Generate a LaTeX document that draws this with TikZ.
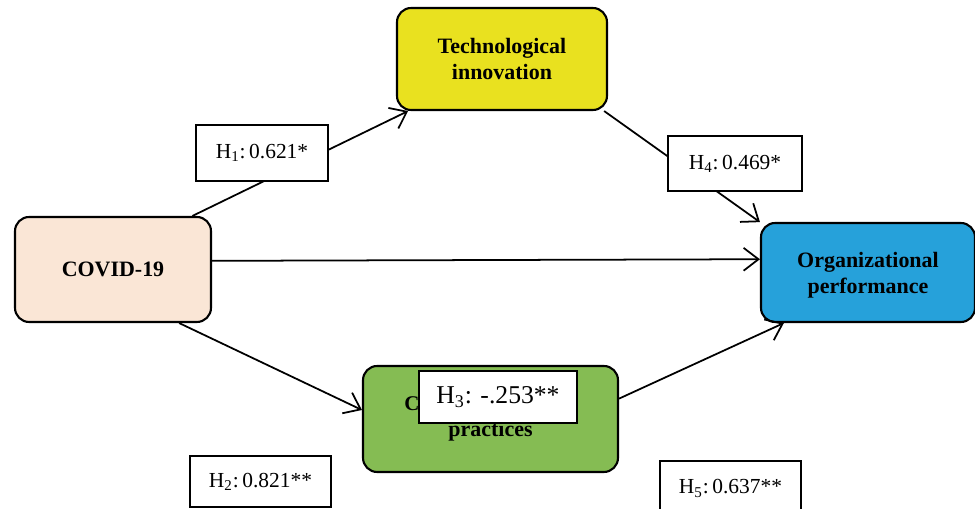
\documentclass[tikz,border=0pt]{standalone}
\usepackage{fontspec}
\setmainfont{Liberation Serif}
\usetikzlibrary{arrows.meta}

\definecolor{covidfill}{RGB}{250,230,214}
\definecolor{techfill}{RGB}{233,225,31}
\definecolor{orgfill}{RGB}{38,161,218}
\definecolor{greenfill}{RGB}{133,188,83}

\tikzset{
  varbox/.style={draw,line width=1.2pt,rounded corners=8pt,align=center,inner sep=0pt,
    font=\fontsize{12.5}{14.8}\selectfont\bfseries},
  hbox/.style={draw,fill=white,line width=0.6pt,inner sep=0pt,
    font=\fontsize{12.2}{14}\selectfont},
  link/.style={line width=1pt,-{Straight Barb[length=8.5pt,width=13pt]}}
}

\begin{document}
\begin{tikzpicture}[x=0.02cm,y=-0.02cm]
\useasboundingbox (0,0) rectangle (975,509);
% variables
\node[varbox,fill=covidfill,minimum width=3.92cm,minimum height=2.1cm] (covid) at (113,269.5) {COVID-19};
\node[varbox,fill=techfill,minimum width=4.2cm,minimum height=2.04cm,text depth=-2pt] (tech) at (502,59) {Technological\\innovation};
\node[varbox,fill=orgfill,minimum width=4.28cm,minimum height=1.98cm,text depth=-2pt] (org) at (868,272.5) {Organizational\\performance};
\node[varbox,fill=greenfill,minimum width=5.1cm,minimum height=2.12cm] (crisis) at (490.5,419)
  {{\fontsize{11.9}{14.8}\selectfont Crisis management}\\practices};
% paths
\draw[link] (covid.34) -- (tech.209);
\draw[link] (tech.-27) -- (org.155);
\draw[link] (covid.5) -- (org.173);
\draw[link] (covid.-39) -- (crisis.176);
\draw[link] (crisis.9) -- (org.211);
% coefficients
\node[hbox,minimum width=2.64cm,minimum height=1.12cm] (h1) at (262,153) {H\textsubscript{1}:\,0.621*};
\node[hbox,minimum width=2.68cm,minimum height=1.1cm] (h4) at (735,163.5) {H\textsubscript{4}:\,0.469*};
\node[hbox,minimum width=3.16cm,minimum height=1.04cm,font=\fontsize{14.6}{16}\selectfont] (h3) at (498,397) {H\textsubscript{3}: -.253**};
\node[hbox,minimum width=2.82cm,minimum height=1.02cm] (h2) at (260.5,481.5) {H\textsubscript{2}:\,0.821**};
\node[hbox,minimum width=2.82cm,minimum height=1.1cm] (h5) at (730.5,488.5) {H\textsubscript{5}:\,0.637**};
\end{tikzpicture}
\end{document}
